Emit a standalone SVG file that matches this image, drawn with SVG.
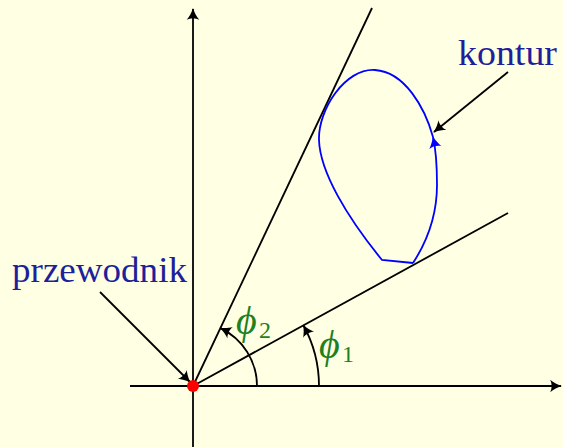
<svg xmlns="http://www.w3.org/2000/svg" width="563" height="447" viewBox="0 0 563 447">
<style>
.ln{stroke:#000;stroke-width:1.8;fill:none}
.ar{marker-end:url(#tip)}
.lbl{font-family:"Liberation Serif","DejaVu Serif",serif;fill:#1f1f9c;font-size:36px}
.ang{font-family:"Liberation Serif","DejaVu Serif",serif;fill:#1e801e;font-style:italic}
.sub{font-family:"Liberation Serif","DejaVu Serif",serif;fill:#1e801e}
</style>
<defs>
<marker id="tip" markerUnits="userSpaceOnUse" markerWidth="16" markerHeight="16" viewBox="-12 -7 14 14" refX="0" refY="0" orient="auto">
<path d="M0.8,0 C-3.5,-1.2 -7,-3.5 -9.5,-5.5 C-7.8,-2.5 -7.8,2.5 -9.5,5.5 C-7,3.5 -3.5,1.2 0.8,0 Z" fill="#000"/>
</marker>
<marker id="tipb" markerUnits="userSpaceOnUse" markerWidth="16" markerHeight="16" viewBox="-12 -7 14 14" refX="0" refY="0" orient="auto">
<path d="M0.8,0 C-3.5,-1.2 -7,-3.5 -9.5,-5.5 C-7.8,-2.5 -7.8,2.5 -9.5,5.5 C-7,3.5 -3.5,1.2 0.8,0 Z" fill="#0000ff"/>
</marker>
</defs>
<rect width="563" height="447" fill="#ffffe3"/>
<g id="connectors">
<path class="ln ar" d="M193,447 L193,9"/>
<path class="ln ar" d="M130,386 L561,386"/>
<path class="ln" d="M193,386 L508,213"/>
<path class="ln" d="M193,386 L372,8"/>
<path class="ln ar" d="M319,386 A126,126 0 0 0 303.4,325.3"/>
<path class="ln ar" d="M257,386 A64,64 0 0 0 220.3,328.1"/>
<path class="ln ar" d="M100,292 L190,382"/>
<path class="ln ar" d="M508,72 L434,132"/>
</g>
<g id="kontur-curve">
<path d="M413,263 C428,240 437,215 437,185 C437,165 436,150 433,137" fill="none" stroke="#0000ff" stroke-width="1.8" marker-end="url(#tipb)"/>
<path d="M433,137 C425,108 405,72 375,70 C345,68 318,110 319,140 C320,172 347,217 382,260 L413,263" fill="none" stroke="#0000ff" stroke-width="1.8"/>
</g>
<g id="przewodnik-dot">
<circle cx="193" cy="386" r="6" fill="#ff0000"/>
</g>
<g id="label-kontur">
<text class="lbl" x="458" y="65" textLength="99" lengthAdjust="spacingAndGlyphs">kontur</text>
</g>
<g id="label-przewodnik">
<text class="lbl" x="12" y="282" textLength="175" lengthAdjust="spacingAndGlyphs">przewodnik</text>
</g>
<g id="label-phi2">
<text class="ang" x="236" y="334" font-size="40">ϕ</text>
<text class="sub" x="259" y="338" font-size="24">2</text>
</g>
<g id="label-phi1">
<text class="ang" x="319" y="358" font-size="40">ϕ</text>
<text class="sub" x="342" y="362" font-size="24">1</text>
</g>
</svg>
